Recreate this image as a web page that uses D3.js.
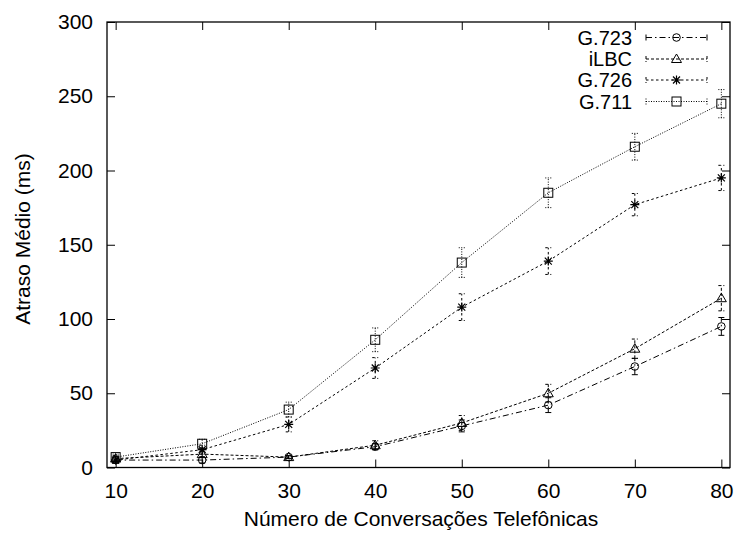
<!DOCTYPE html>
<html><head><meta charset="utf-8">
<script src="https://cdn.jsdelivr.net/npm/d3@7"></script>
<style>body{margin:0;background:#fff}svg{display:block}text{font-family:"Liberation Sans",Arial,sans-serif}</style>
</head><body><svg id="c" width="736" height="533"></svg>
<script>
const conversations = [10, 20, 30, 40, 50, 60, 70, 80];
const seriesNames = ["G.723", "iLBC", "G.726", "G.711"];
const g723 = [5, 5, 7, 14, 28, 42, 68, 95];
const g723Err = [2, 2, 1, 2, 4, 5, 5.5, 6];
const ilbc = [6, 9, 7, 15, 30, 50, 80, 114];
const ilbcErr = [2, 2, 1, 3, 5, 6, 6.5, 8.5];
const g726 = [5, 12, 29, 67, 108, 139, 177, 195];
const g726Err = [2, 3, 5, 7, 9, 9, 7.5, 8.5];
const g711 = [7, 16, 39, 86, 138, 185, 216, 245];
const g711Err = [2, 3, 5, 8, 10, 10, 9, 9.5];
const yTicks = [0, 50, 100, 150, 200, 250, 300];
const xTicks = [10, 20, 30, 40, 50, 60, 70, 80];

const svg = d3.select("#c");
const L = 107, R = 730, T = 22, B = 467.5;
const x = d3.scaleLinear().domain([9, 81]).range([L, R]);
const y = d3.scaleLinear().domain([0, 300]).range([B, T]);

const series = [
  {name: seriesNames[0], v: g723, e: g723Err, dash: "6,3,1.5,3", marker: "circle"},
  {name: seriesNames[1], v: ilbc, e: ilbcErr, dash: "3,2", marker: "triangle"},
  {name: seriesNames[2], v: g726, e: g726Err, dash: "2.5,2.5", marker: "star"},
  {name: seriesNames[3], v: g711, e: g711Err, dash: "1,1.5", marker: "square"}
];

// axes
const tickLen = 8;
const axL = svg.append("g").attr("transform", `translate(${L},0)`).call(d3.axisLeft(y).tickValues(yTicks).tickSize(-tickLen).tickPadding(14));
const axR = svg.append("g").attr("transform", `translate(${R},0)`).call(d3.axisRight(y).tickValues(yTicks).tickSize(-tickLen).tickFormat(""));
const axB = svg.append("g").attr("transform", `translate(0,${B})`).call(d3.axisBottom(x).tickValues(xTicks).tickSize(-tickLen).tickPadding(15.5));
const axT = svg.append("g").attr("transform", `translate(0,${T})`).call(d3.axisTop(x).tickValues(xTicks).tickSize(-tickLen).tickFormat(""));
[axL, axR, axB, axT].forEach(a => {
  a.select(".domain").remove();
  a.selectAll(".tick line").attr("stroke", "#000").attr("stroke-width", 1);
  a.selectAll("text").attr("font-size", 21).attr("fill", "#000").attr("font-family", "Liberation Sans, Arial, sans-serif");
});
svg.append("rect").attr("x", L).attr("y", T).attr("width", R - L).attr("height", B - T)
  .attr("fill", "none").attr("stroke", "#000").attr("stroke-width", 1.3);

// axis titles
svg.append("text").attr("x", 421).attr("y", 526).attr("text-anchor", "middle")
  .attr("font-size", 21).text("Número de Conversações Telefônicas");
svg.append("text").attr("transform", `translate(30,239) rotate(-90)`).attr("text-anchor", "middle")
  .attr("font-size", 21).text("Atraso Médio (ms)");

function drawMarker(g, type, cx, cy) {
  const s = {fill: "none", stroke: "#000", "stroke-width": 1};
  let m;
  if (type === "circle") m = g.append("circle").attr("cx", cx).attr("cy", cy).attr("r", 3.8);
  else if (type === "square") m = g.append("rect").attr("x", cx - 4.5).attr("y", cy - 4.5).attr("width", 9).attr("height", 9);
  else if (type === "triangle") m = g.append("path").attr("d", `M${cx},${cy - 5}L${cx + 5},${cy + 3.5}L${cx - 5},${cy + 3.5}Z`);
  else {
    m = g.append("path").attr("d", `M${cx - 4.5},${cy}H${cx + 4.5}M${cx},${cy - 4.5}V${cy + 4.5}M${cx - 3.5},${cy - 3.5}L${cx + 3.5},${cy + 3.5}M${cx - 3.5},${cy + 3.5}L${cx + 3.5},${cy - 3.5}`);
    s["stroke-width"] = 1.2;
  }
  Object.entries(s).forEach(([k, v]) => m.attr(k, v));
}

const line = d3.line().x(d => x(d[0])).y(d => y(d[1]));
series.forEach(s => {
  const g = svg.append("g");
  const pts = conversations.map((c, i) => [c, s.v[i], s.e[i]]);
  g.append("path").attr("d", line(pts)).attr("fill", "none").attr("stroke", "#000")
    .attr("stroke-width", 1).attr("stroke-dasharray", s.dash);
  pts.forEach(p => {
    const px = x(p[0]);
    const lo = y(Math.max(0, p[1] - p[2])), hi = y(p[1] + p[2]);
    g.append("path").attr("d", `M${px},${lo}V${hi}M${px - 3},${lo}H${px + 3}M${px - 3},${hi}H${px + 3}`)
      .attr("fill", "none").attr("stroke", "#000").attr("stroke-width", 1).attr("stroke-dasharray", s.dash);
    drawMarker(g, s.marker, px, y(p[1]));
  });
});

// legend
const legY = [37.5, 59, 80, 101.5];
series.forEach((s, i) => {
  const ly = legY[i];
  svg.append("text").attr("x", 632).attr("y", ly + 7.3).attr("text-anchor", "end")
    .attr("font-size", 20).text(s.name);
  const g = svg.append("g");
  g.append("path").attr("d", `M646,${ly}H707M646,${ly - 3}V${ly + 3}M707,${ly - 3}V${ly + 3}`)
    .attr("fill", "none").attr("stroke", "#000").attr("stroke-width", 1).attr("stroke-dasharray", s.dash);
  drawMarker(g, s.marker, 676.5, ly);
});
</script></body></html>
